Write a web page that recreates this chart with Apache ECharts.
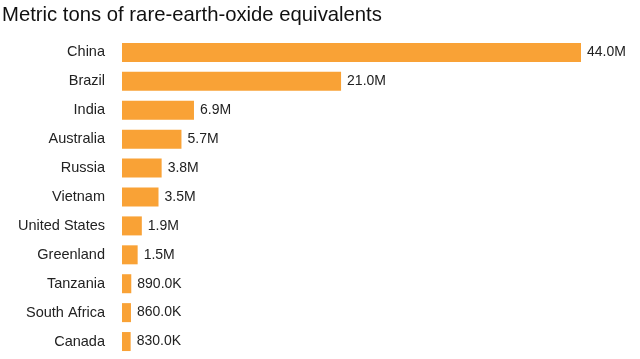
<!DOCTYPE html>
<html><head><meta charset="utf-8">
<script src="https://cdn.jsdelivr.net/npm/echarts@6/dist/echarts.min.js"></script>
<style>html,body{margin:0;padding:0;background:#fff}#c{width:640px;height:359px}</style>
</head><body><div id="c"></div>
<script>
const categories = ["China","Brazil","India","Australia","Russia","Vietnam","United States","Greenland","Tanzania","South Africa","Canada"];
const values = [44.0,21.0,6.9,5.7,3.8,3.5,1.9,1.5,0.89,0.86,0.83];
const valueLabels = ["44.0M","21.0M","6.9M","5.7M","3.8M","3.5M","1.9M","1.5M","890.0K","860.0K","830.0K"];
const titleText = "Metric tons of rare-earth-oxide equivalents";

const chart = echarts.init(document.getElementById('c'), null, {renderer:'canvas'});
chart.setOption({
  animation:false,
  backgroundColor:'#fff',
  title:{text:titleText,left:2,top:5,padding:0,textStyle:{fontFamily:'Liberation Sans, Arial, sans-serif',fontSize:20.3,fontWeight:'normal',color:'#111'}},
  grid:{left:122,right:59,top:38,bottom:3,containLabel:false},
  xAxis:{type:'value',min:0,max:44,show:false},
  yAxis:{type:'category',data:categories,inverse:true,
    axisLine:{show:false},axisTick:{show:false},
    axisLabel:{margin:17,fontFamily:'Liberation Sans, Arial, sans-serif',fontSize:14.5,color:'#222'}},
  series:[{type:'bar',data:values,barWidth:19,
    itemStyle:{color:'#F9A236'},
    label:{show:true,position:'right',distance:6,fontFamily:'Liberation Sans, Arial, sans-serif',fontSize:14,color:'#222',
      formatter:p=>valueLabels[p.dataIndex]}}]
});
</script></body></html>
